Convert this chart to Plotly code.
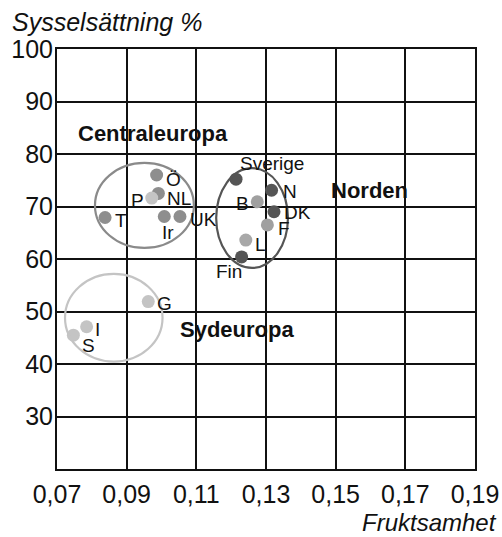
import plotly.graph_objects as go

# ---- data ----
countries = ["Ö", "NL", "P", "T", "Ir", "UK",
             "Sverige", "N", "B", "DK", "F", "L", "Fin",
             "G", "I", "S"]
fertility = [0.0986, 0.0991, 0.0972, 0.0838, 0.1008, 0.1053,
             0.1214, 0.1316, 0.1275, 0.1323, 0.1304, 0.1242, 0.1230,
             0.0962, 0.0785, 0.0747]
employment = [76.0, 72.5, 71.6, 67.9, 68.1, 68.1,
              75.2, 73.1, 70.9, 69.0, 66.5, 63.6, 60.4,
              51.9, 47.1, 45.5]
dot_colors = ["#8e8e8e", "#8e8e8e", "#c4c4c4", "#8e8e8e", "#8e8e8e", "#8e8e8e",
              "#555555", "#555555", "#a0a0a0", "#555555", "#a0a0a0", "#a8a8a8", "#555555",
              "#c4c4c4", "#c4c4c4", "#c4c4c4"]

groups = ["Centraleuropa", "Norden", "Sydeuropa"]
group_label_x = [0.0976, 0.1598, 0.1216]
group_label_y = [84.0, 73.1, 46.5]
ellipse_cx = [0.0951, 0.1260, 0.0863]
ellipse_cy = [70.2, 67.8, 48.8]
ellipse_rx = [0.0142, 0.0103, 0.0140]
ellipse_ry = [8.1, 9.5, 8.35]
ellipse_colors = ["#8a8a8a", "#555555", "#c4c4c4"]

x_ticks = [0.07, 0.09, 0.11, 0.13, 0.15, 0.17, 0.19]
x_tick_labels = ["0,07", "0,09", "0,11", "0,13", "0,15", "0,17", "0,19"]
y_ticks = [30, 40, 50, 60, 70, 80, 90, 100]

# label placement (anchor, xshift, yshift) in pixels
label_place = {
    "Ö": ("left", 7, -4), "NL": ("left", 7, -5), "P": ("right", -6, -2),
    "T": ("left", 8, -3), "Ir": ("center", 4, -16), "UK": ("left", 8, -3),
    "Sverige": ("left", 2, 16), "N": ("left", 9, -1), "B": ("right", -6, -2),
    "DK": ("left", 8, -1), "F": ("left", 9, -4), "L": ("left", 7, -4),
    "Fin": ("center", -13, -15), "G": ("left", 7, -2), "I": ("left", 6, -3),
    "S": ("center", 15, -10),
}

FONT = "Liberation Sans, Arial, Helvetica, sans-serif"

fig = go.Figure()

for i in range(len(groups)):
    fig.add_shape(type="circle", xref="x", yref="y",
                  x0=ellipse_cx[i] - ellipse_rx[i], x1=ellipse_cx[i] + ellipse_rx[i],
                  y0=ellipse_cy[i] - ellipse_ry[i], y1=ellipse_cy[i] + ellipse_ry[i],
                  line=dict(color=ellipse_colors[i], width=2.2), layer="above")

fig.add_trace(go.Scatter(x=fertility, y=employment, mode="markers",
                         marker=dict(size=13, color=dot_colors, line=dict(width=0)),
                         hoverinfo="skip", showlegend=False))

for c, xv, yv in zip(countries, fertility, employment):
    anc, xs, ys = label_place[c]
    fig.add_annotation(x=xv, y=yv, text=c, showarrow=False, xanchor=anc, yanchor="middle",
                       xshift=xs, yshift=ys, font=dict(family=FONT, size=19, color="#111111"))

for g, xv, yv in zip(groups, group_label_x, group_label_y):
    fig.add_annotation(x=xv, y=yv, text="<b>" + g + "</b>", showarrow=False,
                       xanchor="center", yanchor="middle",
                       font=dict(family=FONT, size=22, color="#111111"))

fig.add_annotation(xref="paper", yref="paper", x=-0.112, y=1.0, yshift=27,
                   text="<i>Sysselsättning %</i>", showarrow=False,
                   xanchor="left", yanchor="middle",
                   font=dict(family=FONT, size=25, color="#111111"))
fig.add_annotation(xref="paper", yref="paper", x=1.057, y=0, yshift=-53,
                   text="<i>Fruktsamhet</i>", showarrow=False,
                   xanchor="right", yanchor="middle",
                   font=dict(family=FONT, size=24, color="#111111"))

fig.update_xaxes(range=[0.07, 0.19], tickvals=x_ticks, ticktext=x_tick_labels,
                 showgrid=True, gridcolor="#111111", gridwidth=1.6,
                 showline=True, linecolor="#111111", linewidth=2, mirror=True,
                 ticks="outside", ticklen=2, tickcolor="rgba(0,0,0,0)",
                 zeroline=False, automargin=False,
                 tickfont=dict(family=FONT, size=25, color="#111111"))
fig.update_yaxes(range=[20, 100], tickvals=y_ticks,
                 showgrid=True, gridcolor="#111111", gridwidth=1.6,
                 showline=True, linecolor="#111111", linewidth=2, mirror=True,
                 ticks="", ticklabelstandoff=-3,
                 zeroline=False, automargin=False,
                 tickfont=dict(family=FONT, size=25, color="#111111"))

fig.update_layout(width=502, height=537, margin=dict(l=57, r=27, t=49, b=68),
                  paper_bgcolor="white", plot_bgcolor="white", showlegend=False)

# remove the default page margin so the figure fills the 502x537 window exactly
fig.write_html("out.html", config={"displayModeBar": False},
               post_script="document.body.style.margin='0';document.body.style.overflow='hidden';")
